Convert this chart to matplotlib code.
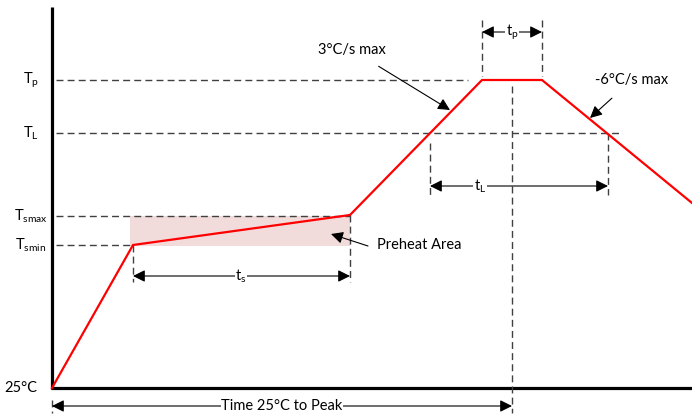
import matplotlib.pyplot as plt
from matplotlib.patches import Rectangle

plt.rcParams['font.family'] = ['Lato', 'DejaVu Sans']

# профиль пайки (координаты схемы)
profile_x = [52, 133, 350, 482, 542, 692]
profile_y = [388, 245, 215, 80, 80, 203]

# уровни температур
levels_y = [80, 133, 216, 245]
levels_end = [468, 622, 350, 133]
level_labels = [r'T$\mathregular{_p}$', r'T$\mathregular{_L}$',
                r'T$\mathregular{_{smax}}$', r'T$\mathregular{_{smin}}$']

fig = plt.figure(figsize=(6.92, 4.16), dpi=100)
ax = fig.add_axes([0, 0, 1, 1])
ax.set_xlim(0, 692)
ax.set_ylim(416, 0)
ax.axis('off')

dash = dict(color='#404040', lw=1.0, ls=(0, (5, 3)))

# оси
ax.plot([52, 52], [7, 389], color='black', lw=2.3, solid_capstyle='butt')
ax.plot([51, 692], [388, 388], color='black', lw=2.3, solid_capstyle='butt')

# зона предварительного нагрева
ax.add_patch(Rectangle((130, 216), 220, 30, color='#f2dcdb', lw=0))

for y, x1, lab in zip(levels_y, levels_end, level_labels):
    ax.plot([56, x1], [y, y], **dash)
    ax.text(31, y, lab, ha='center', va='center', fontsize=10.5)
ax.text(37, 388, '25°C', ha='right', va='center', fontsize=10.5)

# вертикальные пунктиры
ax.plot([133, 133], [245, 282], **dash)
ax.plot([350, 350], [215, 282], **dash)
ax.plot([430, 430], [143, 195], **dash)
ax.plot([608, 608], [133, 195], **dash)
ax.plot([482, 482], [20, 76], **dash)
ax.plot([542, 542], [20, 76], **dash)
ax.plot([512, 512], [86, 413], **dash)
ax.plot([52, 52], [400, 413], **dash)

ax.plot(profile_x, profile_y, color='red', lw=1.6)

# размерные стрелки
arr = dict(arrowstyle='<|-|>', color='black', lw=0.8, mutation_scale=18, shrinkA=0, shrinkB=0)
lbl = dict(ha='center', va='center', fontsize=10.5,
           bbox=dict(facecolor='white', edgecolor='none', pad=0.5))

ax.annotate('', xy=(133, 276), xytext=(350, 276), arrowprops=arr)
ax.text(241, 276, r't$\mathregular{_s}$', **lbl)
ax.annotate('', xy=(430, 186), xytext=(608, 186), arrowprops=arr)
ax.text(480, 186, r't$\mathregular{_L}$', **lbl)
ax.annotate('', xy=(482, 32), xytext=(542, 32), arrowprops=arr)
ax.text(512, 32, r't$\mathregular{_p}$', **lbl)
ax.annotate('', xy=(52, 406), xytext=(512, 406), arrowprops=arr)
ax.text(282, 406, 'Time 25°C to Peak', **lbl)

# подписи со стрелками
one = dict(arrowstyle='-|>', color='black', lw=0.8, mutation_scale=18, shrinkA=0, shrinkB=0)
ax.annotate('3°C/s max', xy=(450, 110), xytext=(352, 50), fontsize=10.5,
            ha='center', va='center', arrowprops=dict(one, shrinkA=9))
ax.annotate('-6°C/s max', xy=(590, 118), xytext=(632, 80), fontsize=10.5,
            ha='center', va='center', arrowprops=dict(one, shrinkA=9))
ax.annotate('', xy=(331, 234), xytext=(368, 246), arrowprops=one)
ax.text(377, 245, 'Preheat Area', ha='left', va='center', fontsize=10.5)

fig.savefig('out.png', dpi=100)
